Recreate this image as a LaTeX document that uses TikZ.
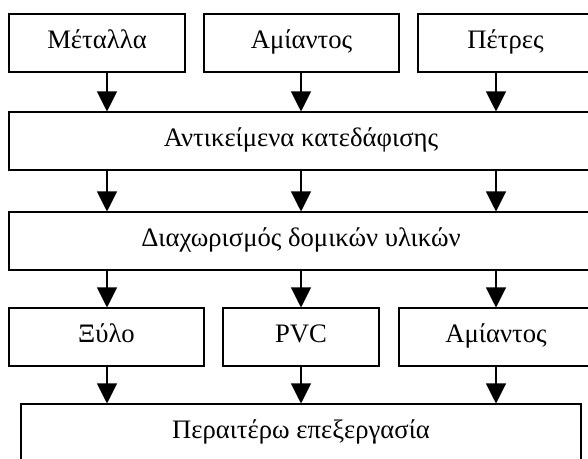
\documentclass[tikz,border=0pt]{standalone}
\usepackage{fontspec}
\setmainfont{Liberation Serif}
\usetikzlibrary{arrows.meta}

\begin{document}
\begin{tikzpicture}[x=0.75pt,y=-0.75pt,
  box/.style={draw,line width=0.8pt,minimum height=43.5pt,inner sep=0pt,text height=12pt,text depth=4.5pt,font=\fontsize{20}{24}\selectfont},
  arr/.style={line width=0.8pt,-{Triangle[length=15pt,width=15pt]}}]
\useasboundingbox (0,0) rectangle (588,458);
\clip (0,0) rectangle (588,458);
 % columns of the arrows
 \coordinate (c1) at (107,0);
 \coordinate (c2) at (301,0);
 \coordinate (c3) at (496,0);
 % boxes
 \node[box,minimum width=132pt] (metal) at (97,43) {Μέταλλα};
 \node[box,minimum width=146.25pt] (asbA) at (301.5,43) {Αμίαντος};
 \node[box,minimum width=131.25pt] (stone) at (505.5,43) {Πέτρες};
 \node[box,minimum width=438pt] (demol) at (301,141) {Αντικείμενα κατεδάφισης};
 \node[box,minimum width=438pt] (sort) at (301,241) {Διαχωρισμός δομικών υλικών};
 \node[box,minimum width=146.25pt] (wood) at (106.5,337) {Ξύλο};
 \node[box,minimum width=117pt] (pvc) at (301,337) {PVC};
 \node[box,minimum width=145.5pt] (asbB) at (496,337) {Αμίαντος};
 \node[box,minimum width=420pt] (further) at (301,433) {Περαιτέρω επεξεργασία};
 % arrows
 \draw[arr] (metal.south -| c1)--(demol.north -| c1);
 \draw[arr] (asbA.south -| c2)--(demol.north -| c2);
 \draw[arr] (stone.south -| c3)--(demol.north -| c3);
 \draw[arr] (demol.south -| c1)--(sort.north -| c1);
 \draw[arr] (demol.south -| c2)--(sort.north -| c2);
 \draw[arr] (demol.south -| c3)--(sort.north -| c3);
 \draw[arr] (sort.south -| c1)--(wood.north -| c1);
 \draw[arr] (sort.south -| c2)--(pvc.north -| c2);
 \draw[arr] (sort.south -| c3)--(asbB.north -| c3);
 \draw[arr] (wood.south -| c1)--(further.north -| c1);
 \draw[arr] (pvc.south -| c2)--(further.north -| c2);
 \draw[arr] (asbB.south -| c3)--(further.north -| c3);
\end{tikzpicture}
\end{document}
